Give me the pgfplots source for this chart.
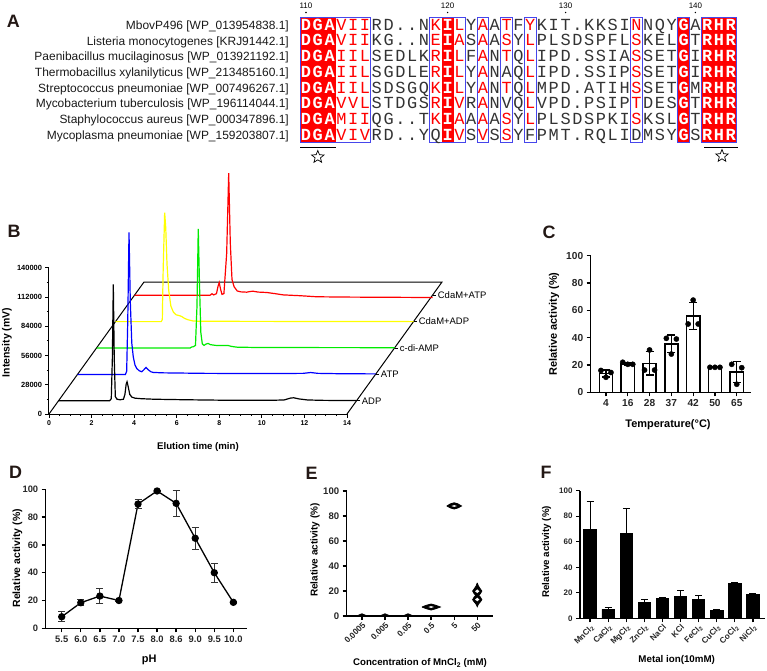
\documentclass[border=0pt]{standalone}
\usepackage{fontspec}
\setmainfont{Liberation Sans}
\setmonofont{Liberation Mono}
\usepackage{pgfplots}
\pgfplotsset{compat=1.18}
\usepackage{pgfplotstable}
\usetikzlibrary{shapes.geometric}

\definecolor{espred}{RGB}{255,0,0}
\definecolor{espblue}{RGB}{70,70,235}
\definecolor{panelk}{RGB}{35,24,21}
\definecolor{trgreen}{RGB}{0,235,0}
\definecolor{tryellow}{RGB}{255,255,0}

\newcommand{\fs}[1]{\fontsize{#1}{#1}\selectfont}

% one alignment row: #1 row number, #2 residues, #3 boxed columns whose residue is not similar
\makeatletter
\newcommand\alnrow[3]{%
  \foreach \ch [count=\c] in {#2}{%
    \pgfmathsetmacro\xx{306+(\c-1)*11.8}%
    \pgfmathsetmacro\yy{25+(#1-1)*15.7+5.2}%
    \edef\tst{\noexpand\in@{,\c,}{,1,2,3,13,33,35,36,37,}}\tst
    \ifin@
      \def\sty{white}\def\wt{\bfseries}%
    \else
      \def\wt{}%
      \edef\tst{\noexpand\in@{,\c,}{,4,5,6,12,14,16,18,20,29,}}\tst
      \ifin@
        \edef\tst{\noexpand\in@{,\c,}{,#3,}}\tst
        \ifin@ \def\sty{black!80}\else \def\sty{espred}\fi
      \else
        \def\sty{black!80}%
      \fi
    \fi
    \node[anchor=base, inner sep=0pt, text=\sty, font=\ttfamily\fs{17}\wt] at (\xx,\yy) {\ch};
  }%
}
\makeatother

% chromatogram traces (time in min, signal in mV above each baseline)
\pgfplotstableread{
t v
0 0
2.40 0
2.48 2000
2.53 40000
2.575 111400
2.62 40000
2.67 4000
2.75 1500
2.90 1000
3.05 1500
3.12 6000
3.18 16000
3.22 18200
3.27 14000
3.35 6000
3.45 3500
3.6 2500
3.9 2000
4.5 1500
6 1000
8 500
10 500
10.6 800
10.9 2600
11.05 2900
11.3 1800
11.7 800
12.5 400
14 300
}\trADP
\pgfplotstableread{
t v
0 0
2.25 0
2.31 3000
2.36 50000
2.42 135900
2.48 70000
2.55 30000
2.62 16800
2.70 9000
2.78 5700
2.90 3500
3.02 2500
3.12 4500
3.22 6700
3.32 4500
3.45 2500
3.56 1900
4 1500
6 1000
9 800
10.6 1000
10.95 1800
11.3 1000
12.5 600
14 500
}\trATP
\pgfplotstableread{
t v
0 0
4.40 0
4.47 1000
4.55 1200
4.65 2500
4.72 40000
4.78 113900
4.84 60000
4.90 15000
4.97 4000
5.05 2500
5.15 3800
5.24 4400
5.35 3200
5.6 2500
5.9 2300
6.16 2500
6.35 1500
6.6 800
7.5 500
10 400
14 300
}\trCDA
\pgfplotstableread{
t v
0 0
2.15 0
2.20 2000
2.24 50000
2.31 104300
2.36 90000
2.42 55000
2.50 30000
2.60 15000
2.72 9000
2.85 6500
3.0 5700
3.1 5000
3.25 3000
3.4 1800
3.64 600
4 300
14 0
}\trMADP
\pgfplotstableread{
t v
0 0
3.55 0
3.64 1400
3.72 300
3.85 1500
3.93 9000
3.98 12100
4.04 6000
4.11 800
4.2 1500
4.33 40000
4.425 116700
4.50 50000
4.58 15000
4.68 8000
4.83 4000
5.0 3200
5.27 2900
5.45 3600
5.58 3800
5.8 3000
6.21 2600
6.6 1500
6.99 300
7.8 -500
8.56 -1500
10 -1800
12 -2000
14 -2200
}\trMATP

\pgfplotsset{
  gp/.style={scale only axis, clip=false,
    axis x line*=bottom, axis y line*=left,
    axis line style={line width=1.5bp, -},
    tick style={line width=1.3bp, black},
    tick align=outside, major tick length=4bp,
    ymin=0, ymax=100, ytick={0,20,...,100},
    /pgf/number format/assume math mode=true,
    tick label style={font=\bfseries\fs{10}, text=black!85},
  },
}

\begin{document}
\begin{tikzpicture}
\useasboundingbox (0,0) rectangle (767bp,-671bp);

% ---------------- A: sequence alignment ----------------
\begin{scope}[x=1bp,y=-1bp]
  % strictly conserved columns
  \fill[espred] (300.1,17.15) rectangle (335.5,142.75);
  \fill[espred] (441.7,17.15) rectangle (453.5,142.75);
  \fill[espred] (677.7,17.15) rectangle (689.5,142.75);
  \fill[espred] (701.3,17.15) rectangle (736.7,142.75);
  % similarity boxes
  \begin{scope}[draw=espblue, line width=0.9bp]
    \draw (300.1,17.15) rectangle (370.9,142.75);
    \draw (429.9,17.15) rectangle (465.3,142.75);
    \draw (477.1,17.15) rectangle (488.9,142.75);
    \draw (500.7,17.15) rectangle (512.5,142.75);
    \draw (524.3,17.15) rectangle (536.1,142.75);
    \draw (630.5,17.15) rectangle (642.3,142.75);
    \draw (677.7,17.15) rectangle (689.5,142.75);
    \draw (701.3,17.15) rectangle (736.7,142.75);
  \end{scope}
  % residue numbering
  \foreach \n/\cc in {110/1,120/13,130/23,140/34}{
    \pgfmathsetmacro\xx{306+(\cc-1)*11.8}
    \node[font=\fs{8}, inner sep=0pt] at (\xx,5.5) {\n};
    \fill (\xx,12.5) circle (0.8);
  }
  \alnrow{1}{D,G,A,V,I,I,R,D,.,.,N,K,I,L,Y,A,A,T,F,Y,K,I,T,.,K,K,S,I,N,N,Q,Y,G,A,R,H,R}{}
  \alnrow{2}{D,G,A,V,I,I,K,G,.,.,N,E,I,A,S,A,A,S,Y,L,P,L,S,D,S,P,F,L,S,K,E,L,G,T,R,H,R}{}
  \alnrow{3}{D,G,A,I,I,L,S,E,D,L,K,R,I,L,F,A,N,T,Q,L,I,P,D,.,S,S,I,A,S,S,E,T,G,I,R,H,R}{}
  \alnrow{4}{D,G,A,I,I,L,S,G,D,L,E,R,I,L,Y,A,N,A,Q,L,I,P,D,.,S,S,I,P,S,S,E,T,G,I,R,H,R}{18}
  \alnrow{5}{D,G,A,I,I,L,S,D,S,G,Q,K,I,L,Y,A,N,T,Q,L,M,P,D,.,A,T,I,H,S,S,E,T,G,M,R,H,R}{}
  \alnrow{6}{D,G,A,V,V,L,S,T,D,G,S,R,I,V,R,A,N,V,Q,L,V,P,D,.,P,S,I,P,T,D,E,S,G,T,R,H,R}{18}
  \alnrow{7}{D,G,A,M,I,I,Q,G,.,.,T,K,I,A,A,A,A,S,Y,L,P,L,S,D,S,P,K,I,S,K,S,L,G,T,R,H,R}{}
  \alnrow{8}{D,G,A,V,I,V,R,D,.,.,Y,Q,I,V,S,V,S,S,Y,F,P,M,T,.,R,Q,L,I,D,M,S,Y,G,S,R,H,R}{12,20,29}
  % sequence names
  \foreach \nm [count=\r] in {%
    MbovP496 [WP\_013954838.1],
    Listeria monocytogenes [KRJ91442.1],
    Paenibacillus mucilaginosus [WP\_013921192.1],
    Thermobacillus xylanilyticus [WP\_213485160.1],
    Streptococcus pneumoniae [WP\_007496267.1],
    Mycobacterium tuberculosis [WP\_196114044.1],
    Staphylococcus aureus [WP\_000347896.1],
    Mycoplasma pneumoniae [WP\_159203807.1]}{
    \pgfmathsetmacro\yy{25+(\r-1)*15.7+4.3}
    \node[anchor=base east, inner sep=0pt, font=\fs{12}, text=black!90] at (289,\yy) {\nm};
  }
  % motif marks
  \draw[line width=0.8bp] (300.1,147) -- (335.5,147);
  \node[star, star points=5, star point ratio=2.3, draw, line width=0.7bp, minimum size=13bp, inner sep=0pt] at (317.8,157) {};
  \draw[line width=0.8bp] (704,147) -- (738,147);
  \node[star, star points=5, star point ratio=2.3, draw, line width=0.7bp, minimum size=13bp, inner sep=0pt] at (722,156) {};

  % panel letters and free axis titles
  \foreach \L/\px/\py in {A/13.3/21, B/14/231, C/549/232, D/15.5/472.5, E/311.7/473, F/546/472.5}
    \node[font=\fs{18}\bfseries, text=panelk, inner sep=0pt] at (\px,\py) {\L};
  \node[rotate=90, font=\bfseries\fs{10.5}] at (7,342.5) {Intensity (mV)};
  \node[font=\bfseries\fs{9.7}] at (198,446.7) {Elution time (min)};
  \node[rotate=90, font=\bfseries\fs{11}] at (554,324) {Relative activity (\%)};
  \node[font=\bfseries\fs{11}] at (668,424.3) {Temperature(°C)};
  \node[rotate=90, font=\bfseries\fs{10.5}] at (17.3,558.3) {Relative activity (\%)};
  \node[font=\bfseries\fs{11}] at (149.3,660) {pH};
  \node[rotate=90, font=\bfseries\fs{10}] at (315,550) {Relative activity (\%)};
  \node[font=\bfseries\fs{9.7}] at (420,663.3) {Concentration of MnCl\textsubscript{2} (mM)};
  \node[rotate=90, font=\bfseries\fs{9.8}] at (546.7,551.7) {Relative activity (\%)};
  \node[font=\bfseries\fs{9.8}] at (676.7,660) {Metal ion(10mM)};
\end{scope}

% ---------------- B: stacked chromatograms ----------------
\begin{axis}[scale only axis, clip=false, at={(49bp,-414bp)}, anchor=south west,
  width=298bp, height=146.3bp,
  xmin=0, xmax=14, ymin=0, ymax=140000,
  axis x line*=bottom, axis y line*=left,
  axis line style={line width=1bp, -},
  tick style={line width=0.9bp, black}, tick align=outside,
  major tick length=3.5bp, minor tick length=2bp,
  xtick={0,2,...,14}, minor x tick num=3,
  scaled y ticks=false,
  ytick={0,28000,56000,84000,112000,140000},
  yticklabels={0,28000,56000,84000,112000,140000},
  minor y tick num=1,
  xticklabel style={font=\bfseries\fs{7}},
  yticklabel style={font=\bfseries\fs{7.5}},
  /pgf/number format/assume math mode=true,
]
  \addplot[black, line width=1bp] coordinates {(0,0) (4.463,126316) (18.463,126316) (14,0)};
  \addplot[red, line width=1.2bp] table[x expr=\thisrow{t}+4.017, y expr=\thisrow{v}+113684] {\trMATP};
  \addplot[tryellow, line width=1.2bp] table[x expr=\thisrow{t}+3.124, y expr=\thisrow{v}+88421] {\trMADP};
  \addplot[trgreen, line width=1.2bp] table[x expr=\thisrow{t}+2.232, y expr=\thisrow{v}+63158] {\trCDA};
  \addplot[blue, line width=1.2bp] table[x expr=\thisrow{t}+1.339, y expr=\thisrow{v}+37895] {\trATP};
  \addplot[black, line width=1.2bp] table[x expr=\thisrow{t}+0.446, y expr=\thisrow{v}+12632] {\trADP};
  \draw[line width=0.8bp] (axis cs:14.446,12632) -- ++(3.5bp,0) node[right, font=\fs{9.5}, inner sep=1.5bp] {ADP};
  \draw[line width=0.8bp] (axis cs:15.339,37895) -- ++(3.5bp,0) node[right, font=\fs{9.5}, inner sep=1.5bp] {ATP};
  \draw[line width=0.8bp] (axis cs:16.232,63158) -- ++(3.5bp,0) node[right, font=\fs{9.5}, inner sep=1.5bp] {c-di-AMP};
  \draw[line width=0.8bp] (axis cs:17.124,88421) -- ++(3.5bp,0) node[right, font=\fs{9.5}, inner sep=1.5bp] {CdaM+ADP};
  \draw[line width=0.8bp] (axis cs:18.017,113684) -- ++(3.5bp,0) node[right, font=\fs{9.5}, inner sep=1.5bp] {CdaM+ATP};
\end{axis}

% ---------------- C: temperature ----------------
\begin{axis}[gp, at={(590.7bp,-392.3bp)}, anchor=south west,
  width=160bp, height=136.6bp, xmin=-0.70, xmax=6.64,
  xtick={0,...,6}, xticklabels={4,16,28,37,42,50,65},
  tick label style={font=\bfseries\fs{10.2}}]
  \addplot[ybar, bar width=13.3bp, fill=white, draw=black, line width=1.6bp]
    coordinates {(0,13.8) (1,20.8) (2,21.2) (3,35.5) (4,55.8) (5,18.3) (6,14.8)};
  \addplot[draw=none, mark=none, error bars/.cd, y dir=both, y explicit,
    error bar style={line width=1.2bp, black},
    error mark options={line width=1.2bp, mark size=4bp, black, rotate=90}]
    coordinates {(0,13.8) +- (0,2.6) (1,20.8) +- (0,0.9) (2,21.2) +- (0,8.5)
      (3,35.5) +- (0,6.5) (4,55.8) +- (0,10.1) (5,18.3) +- (0,0.3) (6,14.8) +- (0,7.8)};
  \addplot[only marks, mark=*, mark size=2.6bp, black] coordinates {
    (-0.23,16) (0,11) (0.23,14.5)
    (0.77,22) (1,20.5) (1.23,20.5)
    (2,31) (1.77,16.3) (2.23,16.3)
    (2.77,39.5) (3.23,39) (3,28)
    (4,67.5) (3.77,50) (4.23,50)
    (4.77,18.3) (5,18.3) (5.23,18.3)
    (5.77,20.5) (6.23,18) (6,5.9)};
\end{axis}

% ---------------- D: pH ----------------
\begin{axis}[gp, at={(45.7bp,-628.3bp)}, anchor=south west,
  width=201bp, height=139bp, xmin=-0.84, xmax=9.70,
  xtick={0,...,9}, xticklabels={5.5,6.0,6.5,7.0,7.5,8.0,8.6,9.0,9.5,10.0},
  tick label style={font=\bfseries\fs{9.4}}]
  \addplot[black, line width=1.3bp, mark=*, mark size=3bp,
    error bars/.cd, y dir=both, y explicit,
    error bar style={line width=0.9bp, black!80},
    error mark options={line width=0.9bp, mark size=3.5bp, black!80, rotate=90}]
    coordinates {(0,8.3) +- (0,3.6) (1,18.4) +- (0,2.3) (2,23.2) +- (0,5.2)
      (3,20.0) +- (0,0.5) (4,89.4) +- (0,3.5) (5,98.8) +- (0,0.5)
      (6,89.9) +- (0,9.2) (7,64.8) +- (0,7.9) (8,40.0) +- (0,7.0) (9,18.7) +- (0,0.5)};
\end{axis}

% ---------------- E: MnCl2 concentration ----------------
\begin{axis}[gp, at={(346.7bp,-616bp)}, anchor=south west,
  width=146bp, height=125bp, xmin=-0.66, xmax=5.67,
  xtick={0,...,5}, xticklabels={0.0005,0.005,0.05,0.5,5,50},
  tick label style={font=\bfseries\fs{9.6}},
  xticklabel style={rotate=45, anchor=north east, inner sep=1bp, font=\bfseries\fs{8.4}}]
  \addplot[fill=black, draw=black, line width=0.8bp] coordinates {(-0.2,0.2) (0,1.8) (0.2,0.2) (0,-0.3) (-0.2,0.2)};
  \addplot[fill=black, draw=black, line width=0.8bp] coordinates {(0.8,0.2) (1,1.8) (1.2,0.2) (1,-0.3) (0.8,0.2)};
  \addplot[fill=black, draw=black, line width=0.8bp] coordinates {(1.8,0.2) (2,1.8) (2.2,0.2) (2,-0.3) (1.8,0.2)};
  \addplot[fill=black, draw=black, line width=0.8bp] coordinates {
    (2.6,7.2) (2.8,8.6) (3.0,9.6) (3.2,8.6) (3.4,7.2) (3.2,5.8) (3.0,4.8) (2.8,5.8) (2.6,7.2)};
  \addplot[fill=white, draw=none] coordinates {(2.88,7.2) (3.0,7.9) (3.12,7.2) (3.0,6.5) (2.88,7.2)};
  \addplot[fill=black, draw=black, line width=0.8bp] coordinates {
    (3.68,88) (3.85,89.8) (4.0,90.6) (4.15,89.8) (4.32,88) (4.15,86.4) (4.0,85.6) (3.85,86.4) (3.68,88)};
  \addplot[fill=white, draw=none] coordinates {(3.88,88) (4.0,88.7) (4.12,88) (4.0,87.3) (3.88,88)};
  \addplot[fill=black, draw=black, line width=0.8bp] coordinates {
    (5,26.5) (5.05,24) (5.12,22) (5.2,20) (5.14,18) (5.06,16.5) (5.14,15) (5.2,13) (5.12,11) (5.05,9.5)
    (5,7.5) (4.95,9.5) (4.88,11) (4.8,13) (4.86,15) (4.94,16.5) (4.86,18) (4.8,20) (4.88,22) (4.95,24) (5,26.5)};
  \addplot[fill=white, draw=none] coordinates {(4.91,19.8) (5,21.3) (5.09,19.8) (5,18.3) (4.91,19.8)};
  \addplot[fill=white, draw=none] coordinates {(4.91,13.2) (5,14.7) (5.09,13.2) (5,11.7) (4.91,13.2)};
\end{axis}

% ---------------- F: metal ions ----------------
\begin{axis}[gp, at={(580bp,-618.3bp)}, anchor=south west,
  width=185bp, height=127.6bp, xmin=-0.56, xmax=9.67,
  xtick={0,...,9},
  xticklabels={MnCl\textsubscript{2},CaCl\textsubscript{2},MgCl\textsubscript{2},ZnCl\textsubscript{2},NaCl,KCl,FeCl\textsubscript{2},CuCl\textsubscript{2},CoCl\textsubscript{2},NiCl\textsubscript{2}},
  tick label style={font=\bfseries\fs{8}},
  xticklabel style={rotate=45, anchor=north east, inner sep=1bp, font=\bfseries\fs{8.2}}]
  \addplot[ybar, bar width=12.5bp, fill=black, draw=black, line width=0.8bp,
    error bars/.cd, y dir=plus, y explicit,
    error bar style={line width=1bp, black},
    error mark options={line width=1bp, mark size=3.5bp, black, rotate=90}]
    coordinates {(0,69.7) +- (0,21.6) (1,7.0) +- (0,1.3) (2,66.6) +- (0,19.8)
      (3,12.2) +- (0,2.3) (4,15.7) +- (0,0.5) (5,17.0) +- (0,4.5) (6,14.9) +- (0,2.8)
      (7,6.3) +- (0,0.9) (8,27.6) +- (0,0.7) (9,18.5) +- (0,1.3)};
\end{axis}
\end{tikzpicture}
\end{document}
